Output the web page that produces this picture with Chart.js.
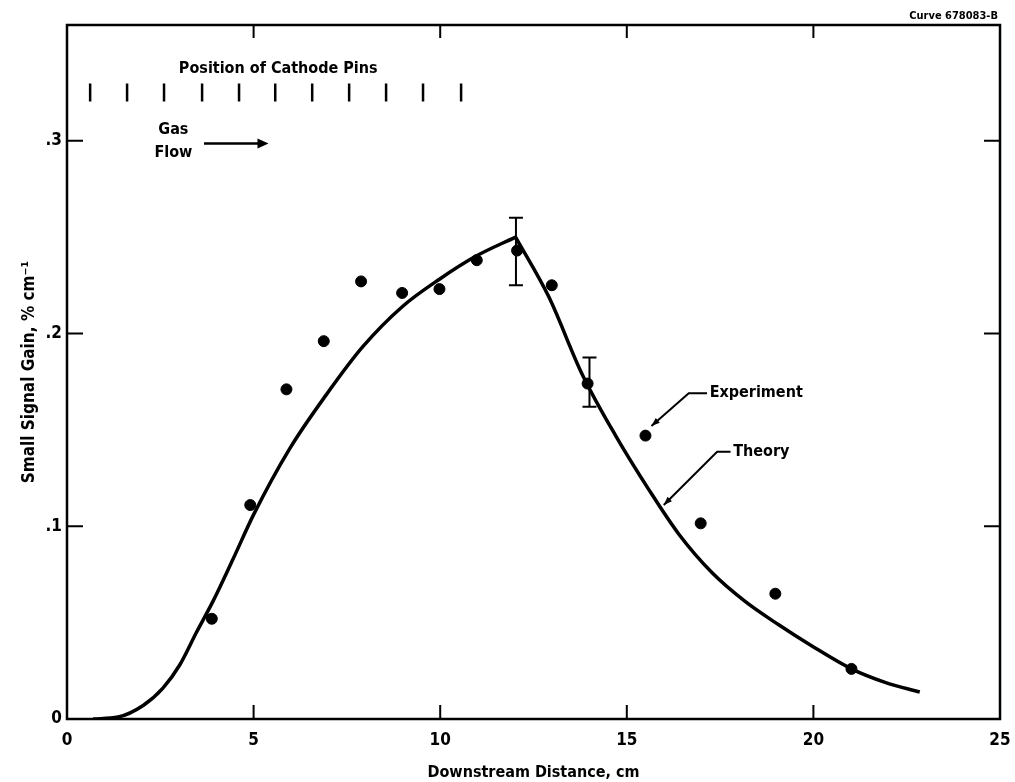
<!DOCTYPE html>
<html>
<head>
<meta charset="UTF-8">
<title>Small Signal Gain</title>
<style>
  body { margin: 0; background: #fff; }
  canvas { display: block; }
</style>
</head>
<body>
<canvas id="chart" width="1015" height="782"></canvas>

<script src="https://cdn.jsdelivr.net/npm/chart.js@4.4.0/dist/chart.umd.min.js"></script>

<script>
// values
const xTicks = [0, 5, 10, 15, 20, 25];
const yTicks = [0, 0.1, 0.2, 0.3];

const theoryX = [0.70, 1.37, 2.04, 2.57, 3.02, 3.47, 3.91, 4.45, 5.0, 5.96, 6.94, 7.92, 8.99, 9.97, 10.95, 12.02,
                 12.91, 13.80, 14.70, 15.59, 16.39, 17.28, 18.17, 19.06, 19.95, 21.02, 21.92, 22.85];
const theoryY = [0, 0.001, 0.007, 0.016, 0.028, 0.045, 0.061, 0.083, 0.106, 0.140, 0.168, 0.193, 0.214, 0.228, 0.240, 0.250,
                 0.219, 0.179, 0.147, 0.119, 0.096, 0.076, 0.061, 0.049, 0.038, 0.026, 0.019, 0.014];

const expX = [3.88, 4.91, 5.88, 6.88, 7.88, 8.98, 9.98, 10.98, 12.06, 12.99, 13.95, 15.5, 16.98, 18.98, 21.02];
const expY = [0.052, 0.111, 0.171, 0.196, 0.227, 0.221, 0.223, 0.238, 0.243, 0.225, 0.174, 0.147, 0.1015, 0.065, 0.026];

const errX = [12.03, 14.0];
const errLow = [0.225, 0.162];
const errHigh = [0.260, 0.1875];

const pinX = [0.62, 1.61, 2.60, 3.62, 4.61, 5.58, 6.57, 7.56, 8.55, 9.54, 10.56];

const FONT = "'Liberation Sans Narrow', 'DejaVu Sans Condensed', 'Roboto Condensed', sans-serif";

// the theory curve has a sharp peak, so draw it as two smooth pieces meeting there
const peak = theoryY.indexOf(Math.max(...theoryY));
const pts = theoryX.map((v, i) => ({ x: v, y: theoryY[i] }));

const inwardTicks = {
  id: 'inwardTicks',
  afterDatasetsDraw(chart) {
    const { ctx, chartArea: a, scales: { x, y } } = chart;
    ctx.save();
    ctx.strokeStyle = '#000';
    ctx.fillStyle = '#000';
    ctx.lineCap = 'butt';

    // frame
    ctx.lineWidth = 2.5;
    ctx.strokeRect(a.left, a.top, a.right - a.left, a.bottom - a.top);

    // ticks pointing into the plot
    ctx.lineWidth = 2;
    ctx.beginPath();
    xTicks.slice(1, -1).forEach(v => {
      const px = x.getPixelForValue(v);
      ctx.moveTo(px, a.bottom); ctx.lineTo(px, a.bottom - 14);
      ctx.moveTo(px, a.top); ctx.lineTo(px, a.top + 13);
    });
    yTicks.slice(1).forEach(v => {
      const py = y.getPixelForValue(v);
      ctx.moveTo(a.left, py); ctx.lineTo(a.left + 16, py);
      ctx.moveTo(a.right, py); ctx.lineTo(a.right - 16, py);
    });
    ctx.stroke();

    // error bars
    ctx.lineWidth = 2;
    errX.forEach((v, i) => {
      const px = x.getPixelForValue(v);
      const p1 = y.getPixelForValue(errLow[i]);
      const p2 = y.getPixelForValue(errHigh[i]);
      ctx.beginPath();
      ctx.moveTo(px, p1); ctx.lineTo(px, p2);
      ctx.moveTo(px - 7, p1); ctx.lineTo(px + 7, p1);
      ctx.moveTo(px - 7, p2); ctx.lineTo(px + 7, p2);
      ctx.stroke();
    });

    // cathode pins
    ctx.lineWidth = 2.5;
    ctx.beginPath();
    pinX.forEach(v => {
      const px = x.getPixelForValue(v);
      ctx.moveTo(px, y.getPixelForValue(0.3297));
      ctx.lineTo(px, y.getPixelForValue(0.3203));
    });
    ctx.stroke();

    ctx.font = 'bold 16px ' + FONT;
    ctx.textBaseline = 'middle';
    ctx.textAlign = 'center';
    ctx.fillText('Position of Cathode Pins', x.getPixelForValue(5.66), y.getPixelForValue(0.3375));
    ctx.fillText('Gas', x.getPixelForValue(2.85), y.getPixelForValue(0.3055));
    ctx.fillText('Flow', x.getPixelForValue(2.85), y.getPixelForValue(0.2935));

    // gas flow arrow
    const ay = y.getPixelForValue(0.2985);
    const ax1 = x.getPixelForValue(3.67), ax2 = x.getPixelForValue(5.4);
    ctx.lineWidth = 2.5;
    ctx.beginPath(); ctx.moveTo(ax1, ay); ctx.lineTo(ax2 - 8, ay); ctx.stroke();
    ctx.beginPath(); ctx.moveTo(ax2, ay); ctx.lineTo(ax2 - 11, ay - 5); ctx.lineTo(ax2 - 11, ay + 5); ctx.closePath(); ctx.fill();

    // leaders
    ctx.textAlign = 'left';
    ctx.lineWidth = 2;
    const leader = (p, label, tx, ty) => {
      ctx.beginPath();
      p.forEach((q, i) => {
        const px = x.getPixelForValue(q[0]), py = y.getPixelForValue(q[1]);
        if (i === 0) ctx.moveTo(px, py); else ctx.lineTo(px, py);
      });
      ctx.stroke();
      const n = p.length;
      const ex = x.getPixelForValue(p[n - 1][0]), ey = y.getPixelForValue(p[n - 1][1]);
      const bx = x.getPixelForValue(p[n - 2][0]), by = y.getPixelForValue(p[n - 2][1]);
      const ang = Math.atan2(ey - by, ex - bx);
      ctx.beginPath();
      ctx.moveTo(ex, ey);
      ctx.lineTo(ex - 9 * Math.cos(ang - 0.35), ey - 9 * Math.sin(ang - 0.35));
      ctx.lineTo(ex - 9 * Math.cos(ang + 0.35), ey - 9 * Math.sin(ang + 0.35));
      ctx.closePath(); ctx.fill();
      ctx.fillText(label, x.getPixelForValue(tx), y.getPixelForValue(ty));
    };
    leader([[17.15, 0.169], [16.66, 0.169], [15.66, 0.152]], 'Experiment', 17.22, 0.169);
    leader([[17.78, 0.1386], [17.42, 0.1386], [15.99, 0.111]], 'Theory', 17.85, 0.1386);

    ctx.font = 'bold 11px ' + FONT;
    ctx.textAlign = 'right';
    ctx.fillText('Curve 678083-B', 998, 16);
    ctx.restore();
  }
};

const theoryStyle = {
  showLine: true,
  borderColor: '#000',
  borderWidth: 3.5,
  pointRadius: 0,
  cubicInterpolationMode: 'monotone'
};

new Chart(document.getElementById('chart'), {
  type: 'scatter',
  data: {
    datasets: [
      Object.assign({ label: 'Theory', data: pts.slice(0, peak + 1) }, theoryStyle),
      Object.assign({ label: 'Theory (fall)', data: pts.slice(peak) }, theoryStyle),
      {
        label: 'Experiment',
        data: expX.map((v, i) => ({ x: v, y: expY[i] })),
        showLine: false,
        backgroundColor: '#000',
        borderColor: '#000',
        pointRadius: 5.5
      }
    ]
  },
  options: {
    responsive: false,
    devicePixelRatio: 1,
    animation: false,
    layout: { padding: { top: 25, right: 15, left: 0, bottom: 0 } },
    plugins: {
      legend: { display: false },
      tooltip: { enabled: false }
    },
    scales: {
      x: {
        type: 'linear',
        min: 0,
        max: 25,
        afterFit: s => { s.height = 63; s.paddingRight = 0; s.paddingLeft = 0; },
        afterBuildTicks: s => { s.ticks = xTicks.map(v => ({ value: v })); },
        grid: { display: false, drawTicks: false },
        border: { display: false },
        ticks: { color: '#000', padding: 11, font: { family: FONT, size: 17, weight: 'bold' } },
        title: {
          display: true,
          text: 'Downstream Distance, cm',
          color: '#000',
          padding: { top: 2, bottom: 0 },
          font: { family: FONT, size: 16, weight: 'bold' }
        }
      },
      y: {
        type: 'linear',
        min: 0,
        max: 0.36,
        afterFit: s => { s.width = 67; },
        afterBuildTicks: s => { s.ticks = yTicks.map(v => ({ value: v })); },
        grid: { display: false, drawTicks: false },
        border: { display: false },
        ticks: {
          color: '#000',
          padding: 5,
          font: { family: FONT, size: 17, weight: 'bold' },
          callback: v => v === 0 ? '0' : '.' + Math.round(v * 10)
        },
        title: {
          display: true,
          text: 'Small Signal Gain, % cm\u207B\u00B9',
          color: '#000',
          padding: { top: 19, bottom: 0 },
          font: { family: FONT, size: 17, weight: 'bold' }
        }
      }
    }
  },
  plugins: [inwardTicks]
});
</script>
</body>
</html>
